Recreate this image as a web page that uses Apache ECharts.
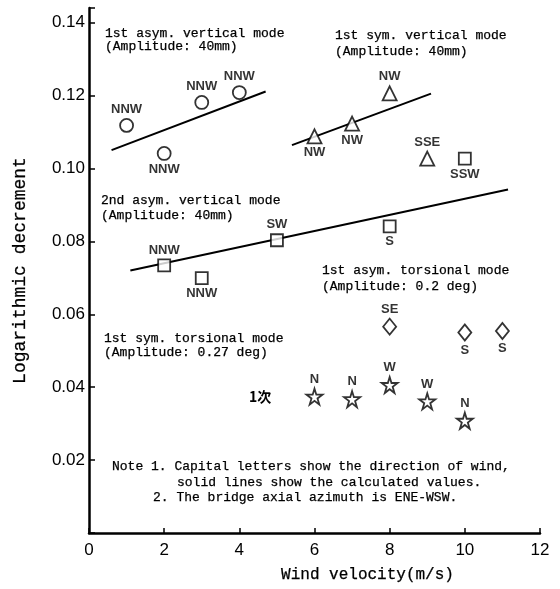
<!DOCTYPE html>
<html>
<head>
<meta charset="utf-8">
<script src="https://cdn.jsdelivr.net/npm/echarts@6/dist/echarts.min.js"></script>
<style>
  html, body { margin: 0; padding: 0; background: #fff; }
  #main { width: 560px; height: 589px; }
</style>
</head>
<body>
<div id="main"></div>
<script>
// 1st asym. vertical mode (circles)
var asymVertV = [1, 2, 3, 4];
var asymVertD = [0.1118, 0.1041, 0.1181, 0.1208];
var asymVertDir = ['NNW', 'NNW', 'NNW', 'NNW'];
var asymVertCalc = [[0.6, 0.105], [4.7, 0.1211]];

// 1st sym. vertical mode (triangles)
var symVertV = [6, 7, 8, 9];
var symVertD = [0.1088, 0.1123, 0.1206, 0.1027];
var symVertDir = ['NW', 'NW', 'NW', 'SSE'];
var symVertCalc = [[5.4, 0.1064], [9.1, 0.1205]];

// 2nd asym. vertical mode (squares)
var asym2VertV = [2, 3, 5, 8, 10];
var asym2VertD = [0.0734, 0.0699, 0.0803, 0.0841, 0.1027];
var asym2VertDir = ['NNW', 'NNW', 'SW', 'S', 'SSW'];
var asym2VertCalc = [[1.1, 0.072], [11.15, 0.0942]];

// 1st asym. torsional mode (diamonds)
var asymTorV = [8, 10, 11];
var asymTorD = [0.0566, 0.0550, 0.0554];
var asymTorDir = ['SE', 'S', 'S'];

// 1st sym. torsional mode (stars)
var symTorV = [6, 7, 8, 9, 10];
var symTorD = [0.0374, 0.0367, 0.0406, 0.0361, 0.0308];
var symTorDir = ['N', 'N', 'W', 'W', 'N'];

var yTicks = [0.02, 0.04, 0.06, 0.08, 0.10, 0.12, 0.14];

// label placement per point (above / below the marker)
var asymVertPos = ['top', 'bottom', 'top', 'top'];
var symVertPos = ['bottom', 'bottom', 'top', 'top'];
var asym2VertPos = ['top', 'bottom', 'top', 'bottom', 'bottom'];
var asymTorPos = ['top', 'bottom', 'bottom'];
var symTorPos = ['top', 'top', 'top', 'top', 'top'];

var STAR = 'path://M50,2 L61,37 L98,37 L68,59 L79,95 L50,73 L21,95 L32,59 L2,37 L39,37 Z';
var MONO = '"Liberation Mono", monospace';

function points(xs, ys, dirs, pos) {
  return xs.map(function (x, i) {
    return { value: [x, ys[i]], name: dirs[i], label: { position: pos[i] } };
  });
}

function marks(name, sym, size, data) {
  return {
    name: name,
    type: 'scatter',
    symbol: sym,
    symbolSize: size,
    z: 5,
    itemStyle: { color: '#fff', borderColor: '#000', borderWidth: 1.8 },
    label: {
      show: true, formatter: '{b}', distance: 2,
      fontFamily: 'Liberation Sans', fontWeight: 'bold', fontSize: 13, color: '#000'
    },
    data: data
  };
}

function calc(data) {
  return {
    type: 'line', data: data, symbol: 'none', z: 2, silent: true,
    lineStyle: { color: '#000', width: 2 }
  };
}

function note(x, y, s) {
  return {
    type: 'text', x: x, y: y,
    style: {
      text: s, fontFamily: MONO, fontSize: 13, fill: '#000',
      stroke: '#000', lineWidth: 0.25, verticalAlign: 'middle'
    }
  };
}

var chart = echarts.init(document.getElementById('main'));
chart.setOption({
  animation: false,
  backgroundColor: '#fff',
  grid: { left: 89, right: 20, top: 8, bottom: 56 },
  xAxis: {
    type: 'value', min: 0, max: 12, interval: 2,
    name: 'Wind velocity(m/s)', nameLocation: 'middle', nameGap: 34,
    nameTextStyle: {
      fontFamily: MONO, fontSize: 16, color: '#000', padding: [0, 0, 0, 106],
      textBorderColor: '#000', textBorderWidth: 0.25
    },
    axisLine: { lineStyle: { color: '#000', width: 2.5 } },
    axisTick: { inside: true, length: 5, lineStyle: { color: '#000', width: 1.5 } },
    axisLabel: { fontFamily: 'Liberation Sans', fontSize: 17, color: '#000', margin: 9 },
    splitLine: { show: false }
  },
  yAxis: {
    type: 'value', min: 0, max: 0.144, interval: 0.02,
    name: 'Logarithmic decrement', nameLocation: 'middle', nameGap: 60, nameRotate: 90,
    nameTextStyle: {
      fontFamily: MONO, fontSize: 18, color: '#000',
      textBorderColor: '#000', textBorderWidth: 0.25
    },
    axisLine: { show: true, lineStyle: { color: '#000', width: 2.5 } },
    axisTick: { inside: true, length: 6, lineStyle: { color: '#000', width: 1.5 } },
    axisLabel: {
      fontFamily: 'Liberation Sans', fontSize: 17, color: '#000', margin: 4,
      formatter: function (v) {
        return yTicks.some(function (t) { return Math.abs(t - v) < 1e-6; }) ? v.toFixed(2) : '';
      }
    },
    splitLine: { show: false }
  },
  graphic: [
    note(105, 34, '1st asym. vertical mode'),
    note(105, 47, '(Amplitude: 40mm)'),
    note(335, 36, '1st sym. vertical mode'),
    note(335, 52, '(Amplitude: 40mm)'),
    note(101, 201, '2nd asym. vertical mode'),
    note(101, 216, '(Amplitude: 40mm)'),
    note(322, 271, '1st asym. torsional mode'),
    note(322, 287, '(Amplitude: 0.2 deg)'),
    note(104, 339, '1st sym. torsional mode'),
    note(104, 353, '(Amplitude: 0.27 deg)'),
    note(112, 467, 'Note 1. Capital letters show the direction of wind,'),
    note(177, 483, 'solid lines show the calculated values.'),
    note(153, 498, '2. The bridge axial azimuth is ENE-WSW.'),
    {
      type: 'text', x: 249, y: 397,
      style: { text: '1次', fontFamily: '"Noto Sans CJK JP"', fontWeight: 'bold', fontSize: 14, fill: '#000', verticalAlign: 'middle' }
    }
  ],
  series: [
    calc(asymVertCalc),
    calc(symVertCalc),
    calc(asym2VertCalc),
    marks('1st asym. vertical mode', 'circle', 13, points(asymVertV, asymVertD, asymVertDir, asymVertPos)),
    marks('1st sym. vertical mode', 'triangle', 14, points(symVertV, symVertD, symVertDir, symVertPos)),
    marks('2nd asym. vertical mode', 'rect', 12, points(asym2VertV, asym2VertD, asym2VertDir, asym2VertPos)),
    marks('1st asym. torsional mode', 'diamond', [13, 16], points(asymTorV, asymTorD, asymTorDir, asymTorPos)),
    marks('1st sym. torsional mode', STAR, 16, points(symTorV, symTorD, symTorDir, symTorPos))
  ]
});
</script>
</body>
</html>
